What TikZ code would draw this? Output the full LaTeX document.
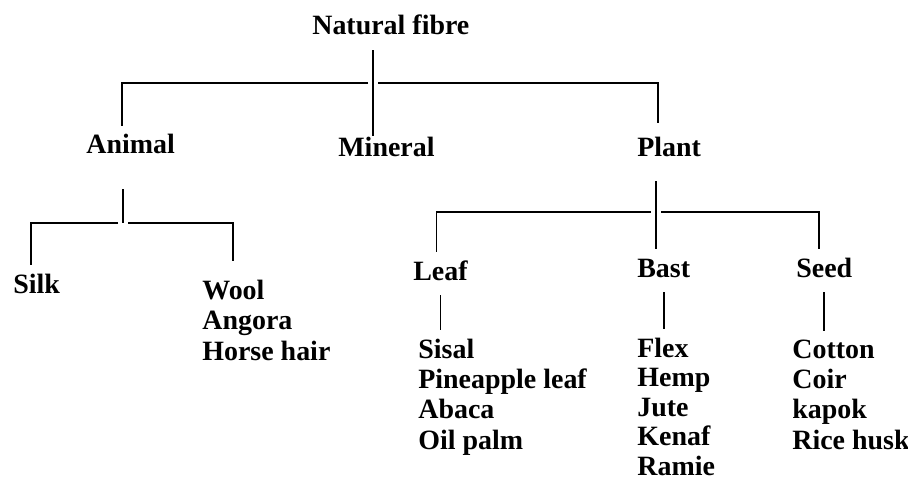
\documentclass[tikz,border=0pt]{standalone}
\usepackage{fontspec}
\setmainfont{Liberation Serif}
\usepackage{tikz}
\usetikzlibrary{arrows.meta,positioning}
\newcommand{\fibrefont}{\fontsize{15.9}{17.1}\selectfont\bfseries}
\tikzset{
fib/.style={font=\fibrefont,inner xsep=0pt,inner ysep=0.18cm,text height=0.38cm,text depth=0.12cm,anchor=base west},
fiblist/.style={font=\fibrefont,inner xsep=0pt,inner ysep=0.18cm,align=left,anchor=base west},
lnk/.style={line width=1.1pt}
}

\begin{document}
\begin{tikzpicture}
\useasboundingbox (0,0) rectangle (18.16,-9.56);
%names (lists sit on their last line)
\node[fib] (nat) at (6.24,-0.70) {Natural fibre};
\node[fib] (animal) at (1.72,-3.08) {Animal};
\node[fib] (mineral) at (6.76,-3.14) {Mineral};
\node[fib] (plant) at (12.74,-3.14) {Plant};
\node[fib] (silk) at (0.26,-5.86) {Silk};
\node[fiblist] (wool) at (4.04,-7.20) {Wool\\Angora\\Horse hair};
\node[fib] (leaf) at (8.26,-5.60) {Leaf};
\node[fib] (bast) at (12.74,-5.54) {Bast};
\node[fib] (seed) at (15.92,-5.54) {Seed};
\node[fiblist] (leaflist) at (8.36,-8.98) {Sisal\\Pineapple leaf\\Abaca\\Oil palm};
\node[fiblist,font=\fontsize{15.9}{16.7}\selectfont\bfseries] (bastlist) at (12.74,-9.50) {Flex\\Hemp\\Jute\\Kenaf\\Ramie};
\node[fiblist] (seedlist) at (15.84,-8.98) {Cotton\\Coir\\kapok\\Rice husk};
%junctions
\coordinate (j0) at (7.46,-1.66);
\coordinate (ja) at (2.46,-4.46);
\coordinate (jp) at (13.12,-4.24);
%natural fibre
\draw[lnk,shorten >=-0.14cm](nat.south -| j0)--(mineral.north -| j0);
\draw[lnk]([xshift=-0.1cm]j0)-|([xshift=-0.17cm]animal.north);
\draw[lnk,shorten >=0.12cm]([xshift=0.1cm]j0)-|([xshift=-0.22cm]plant.north);
%animal
\draw[lnk,shorten <=0.4cm](animal.south -| ja)--(ja);
\draw[lnk]([xshift=-0.1cm]ja)-|([xshift=-0.11cm]silk.north);
\draw[lnk,shorten >=0.2cm]([xshift=0.1cm]ja)-|([xshift=0.62cm]wool.north west);
%plant
\draw[lnk,shorten <=0.18cm](plant.south -| jp)--(bast.north -| jp);
\draw[lnk]([xshift=-0.1cm]jp)-|([xshift=-0.08cm]leaf.north);
\draw[lnk]([xshift=0.1cm]jp)-|([xshift=-0.1cm]seed.north);
\draw[lnk](leaf.south)--(leaf.south |- leaflist.north);
\draw[lnk](bast.south)--(bast.south |- bastlist.north);
\draw[lnk](seed.south)--(seed.south |- seedlist.north);
\end{tikzpicture}
\end{document}
